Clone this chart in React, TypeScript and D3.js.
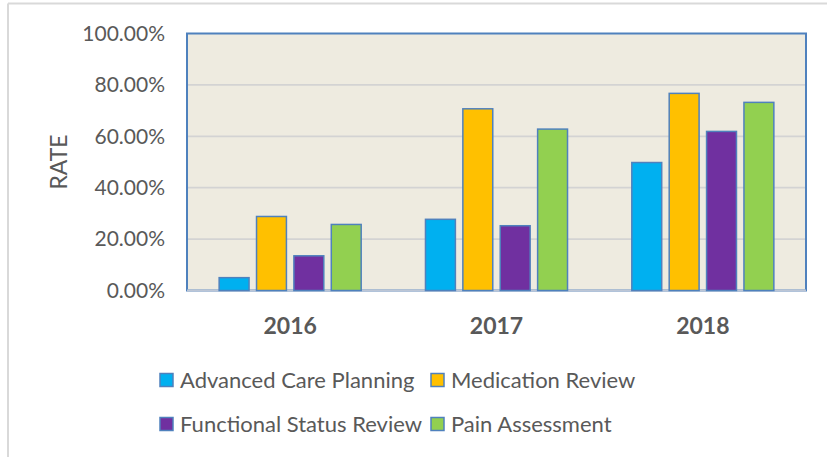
import React, { useRef, useEffect } from 'react';
import { select, scaleBand, scaleLinear, format } from 'd3';

const years = ['2016', '2017', '2018'];
const seriesNames = ['Advanced Care Planning', 'Medication Review', 'Functional Status Review', 'Pain Assessment'];
const advancedCarePlanning = [0.05, 0.277, 0.498];
const medicationReview = [0.288, 0.707, 0.767];
const functionalStatusReview = [0.135, 0.252, 0.619];
const painAssessment = [0.257, 0.628, 0.732];
const yTicks = [0, 0.2, 0.4, 0.6, 0.8, 1.0];
const colors = ['#00B0F0', '#FFC000', '#7030A0', '#92D050'];

const W = 827;
const H = 457;
const plot = { left: 187, right: 806, top: 33.5, bottom: 290.5 };
const FONT = 'Lato, "Open Sans", sans-serif';
const TEXT = '#595959';

function App() {
  const svgRef = useRef(null);

  useEffect(() => {
    document.body.style.margin = '0';
    const svg = select(svgRef.current);
    svg.selectAll('*').remove();

    const values = [advancedCarePlanning, medicationReview, functionalStatusReview, painAssessment];

    // scales
    const x0 = scaleBand().domain(years).range([plot.left, plot.right]);
    const x1 = scaleBand()
      .domain(seriesNames)
      .range([0, x0.bandwidth()])
      .paddingInner(0.2)
      .paddingOuter(0.86);
    const y = scaleLinear().domain([0, 1]).range([plot.bottom, plot.top]);

    // chart frame (only top + left visible)
    svg.append('line').attr('x1', 8).attr('x2', W).attr('y1', 3.5).attr('y2', 3.5)
      .attr('stroke', '#D9D9D9').attr('stroke-width', 2);
    svg.append('line').attr('x1', 8).attr('x2', 8).attr('y1', 3.5).attr('y2', H)
      .attr('stroke', '#D9D9D9').attr('stroke-width', 2);

    // plot area
    svg.append('rect')
      .attr('x', plot.left).attr('y', plot.top)
      .attr('width', plot.right - plot.left).attr('height', plot.bottom - plot.top)
      .attr('fill', '#EEEBE0')
      .attr('stroke', '#4F81BD').attr('stroke-width', 2);

    // gridlines
    svg.selectAll('.grid')
      .data(yTicks.filter(t => t > 0 && t < 1))
      .join('line')
      .attr('class', 'grid')
      .attr('x1', plot.left + 1).attr('x2', plot.right - 1)
      .attr('y1', d => y(d)).attr('y2', d => y(d))
      .attr('stroke', '#D3D3D3').attr('stroke-width', 1.7);

    // axis line bottom
    svg.append('line')
      .attr('x1', plot.left).attr('x2', plot.right)
      .attr('y1', plot.bottom).attr('y2', plot.bottom)
      .attr('stroke', '#BCC6D6').attr('stroke-width', 2);

    // bars
    const groups = svg.selectAll('.year')
      .data(years)
      .join('g')
      .attr('class', 'year')
      .attr('transform', d => `translate(${x0(d)},0)`);

    groups.selectAll('rect')
      .data((yr, i) => seriesNames.map((s, k) => ({ s, k, v: values[k][i] })))
      .join('rect')
      .attr('x', d => x1(d.s))
      .attr('width', x1.bandwidth())
      .attr('y', d => y(d.v))
      .attr('height', d => plot.bottom - y(d.v))
      .attr('fill', d => colors[d.k])
      .attr('stroke', '#4F81BD')
      .attr('stroke-width', 1.5);

    // y tick labels
    const pct = format('.2%');
    svg.selectAll('.ytick')
      .data(yTicks)
      .join('text')
      .attr('class', 'ytick')
      .attr('x', 165)
      .attr('y', d => y(d))
      .attr('dy', '0.35em')
      .attr('text-anchor', 'end')
      .attr('font-family', FONT)
      .attr('font-size', 21)
      .attr('fill', TEXT)
      .text(d => pct(d));

    // y title
    svg.append('text')
      .attr('transform', `translate(59,${(plot.top + plot.bottom) / 2}) rotate(-90)`)
      .attr('dy', '0.35em')
      .attr('text-anchor', 'middle')
      .attr('font-family', FONT)
      .attr('font-size', 23)
      .attr('fill', TEXT)
      .text('RATE');

    // x labels
    svg.selectAll('.xtick')
      .data(years)
      .join('text')
      .attr('class', 'xtick')
      .attr('x', d => x0(d) + x0.bandwidth() / 2)
      .attr('y', 326)
      .attr('dy', '0.35em')
      .attr('text-anchor', 'middle')
      .attr('font-family', FONT)
      .attr('font-size', 23)
      .attr('font-weight', 'bold')
      .attr('fill', TEXT)
      .text(d => d);

    // legend, 2 x 2
    const legendPos = [
      { x: 160, y: 380 },
      { x: 431, y: 380 },
      { x: 160, y: 424 },
      { x: 431, y: 424 },
    ];
    const items = svg.selectAll('.legend')
      .data(seriesNames)
      .join('g')
      .attr('class', 'legend')
      .attr('transform', (d, i) => `translate(${legendPos[i].x},${legendPos[i].y})`);
    items.append('rect')
      .attr('x', 0).attr('y', -6.5)
      .attr('width', 13).attr('height', 13)
      .attr('fill', (d, i) => colors[i])
      .attr('stroke', '#4F81BD').attr('stroke-width', 1.5);
    items.append('text')
      .attr('x', 20)
      .attr('dy', '0.35em')
      .attr('font-family', FONT)
      .attr('font-size', 22)
      .attr('fill', TEXT)
      .text(d => d);
  }, []);

  return (
    <svg ref={svgRef} width={W} height={H} style={{ display: 'block', background: '#fff' }} />
  );
}

export default App;
